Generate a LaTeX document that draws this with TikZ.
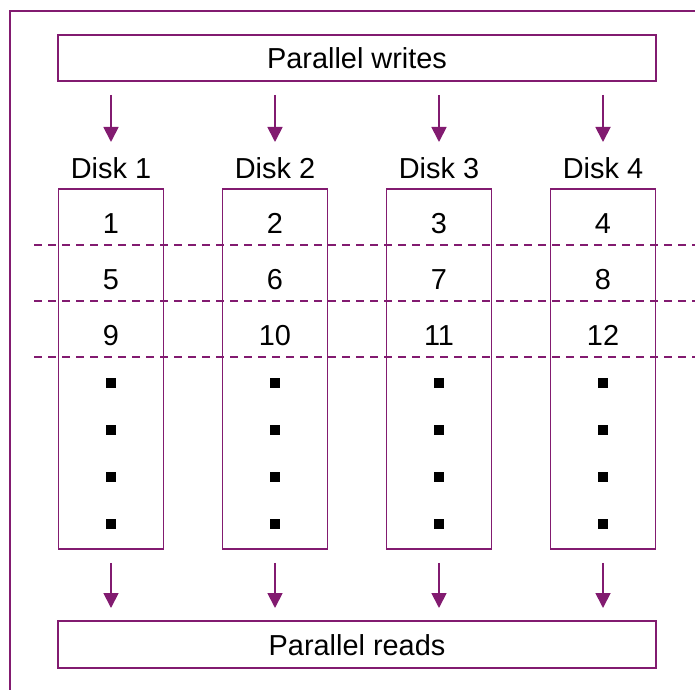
\documentclass[tikz,border=0pt]{standalone}
\usepackage{fontspec}
\setmainfont{Liberation Sans}
\usetikzlibrary{arrows.meta}

\definecolor{plum}{RGB}{130,27,112}

\begin{document}
\begin{tikzpicture}[x=1bp, y=-1bp, line width=1.8bp,
  frame/.style={draw=plum, line width=1.8bp},
  txt/.style={font=\fontsize{29}{33}\selectfont, text height=21bp, text depth=0bp},
  wide/.style={frame, txt, minimum width=598bp, inner sep=0pt},
  label/.style={txt, inner sep=0pt},
  flow/.style={draw=plum, -{Triangle[length=15bp, width=15bp]}},
  sep/.style={draw=plum, dash pattern=on 8bp off 6bp},
  dot/.style={fill=black, inner sep=0pt, minimum size=10bp}]

\useasboundingbox (0,0) rectangle (695,690);

% outer frame
\draw[frame] (695,11) -- (10,11) -- (10,690);

\node[wide, minimum height=46bp] (wbox) at (357,58) {Parallel writes};
\node[wide, minimum height=47bp] (rbox) at (357,644.5) {Parallel reads};

% stripes
\draw[sep] (34,245) -- (695,245);
\draw[sep] (34,301) -- (695,301);
\draw[sep] (34,357) -- (695,357);

\foreach \i/\x in {1/111,2/275,3/439,4/603} {
  \node[frame, fill=none, minimum width=105bp, minimum height=360bp, inner sep=0pt]
    (col\i) at (\x,369) {};
  \node[label] (disk\i) at (\x,168) {Disk \i};
  \pgfmathtruncatemacro{\b}{\i+4}
  \pgfmathtruncatemacro{\c}{\i+8}
  \node[label] (a\i) at (\x,223) {\i};
  \node[label] (b\i) at (\x,279) {\b};
  \node[label] (c\i) at (\x,335) {\c};
  \foreach \y [count=\k] in {383,430,477,524}
    \node[dot] (sq\i\k) at (\x,\y) {};
  \coordinate (wtip\i) at (\x,142);
  \coordinate (rtip\i) at (\x,608);
  \draw[flow, shorten <=13bp] (wbox.south -| col\i.north) -- (wtip\i);
  \draw[flow, shorten <=13bp] (col\i.south) -- (rtip\i);
}

\end{tikzpicture}
\end{document}
